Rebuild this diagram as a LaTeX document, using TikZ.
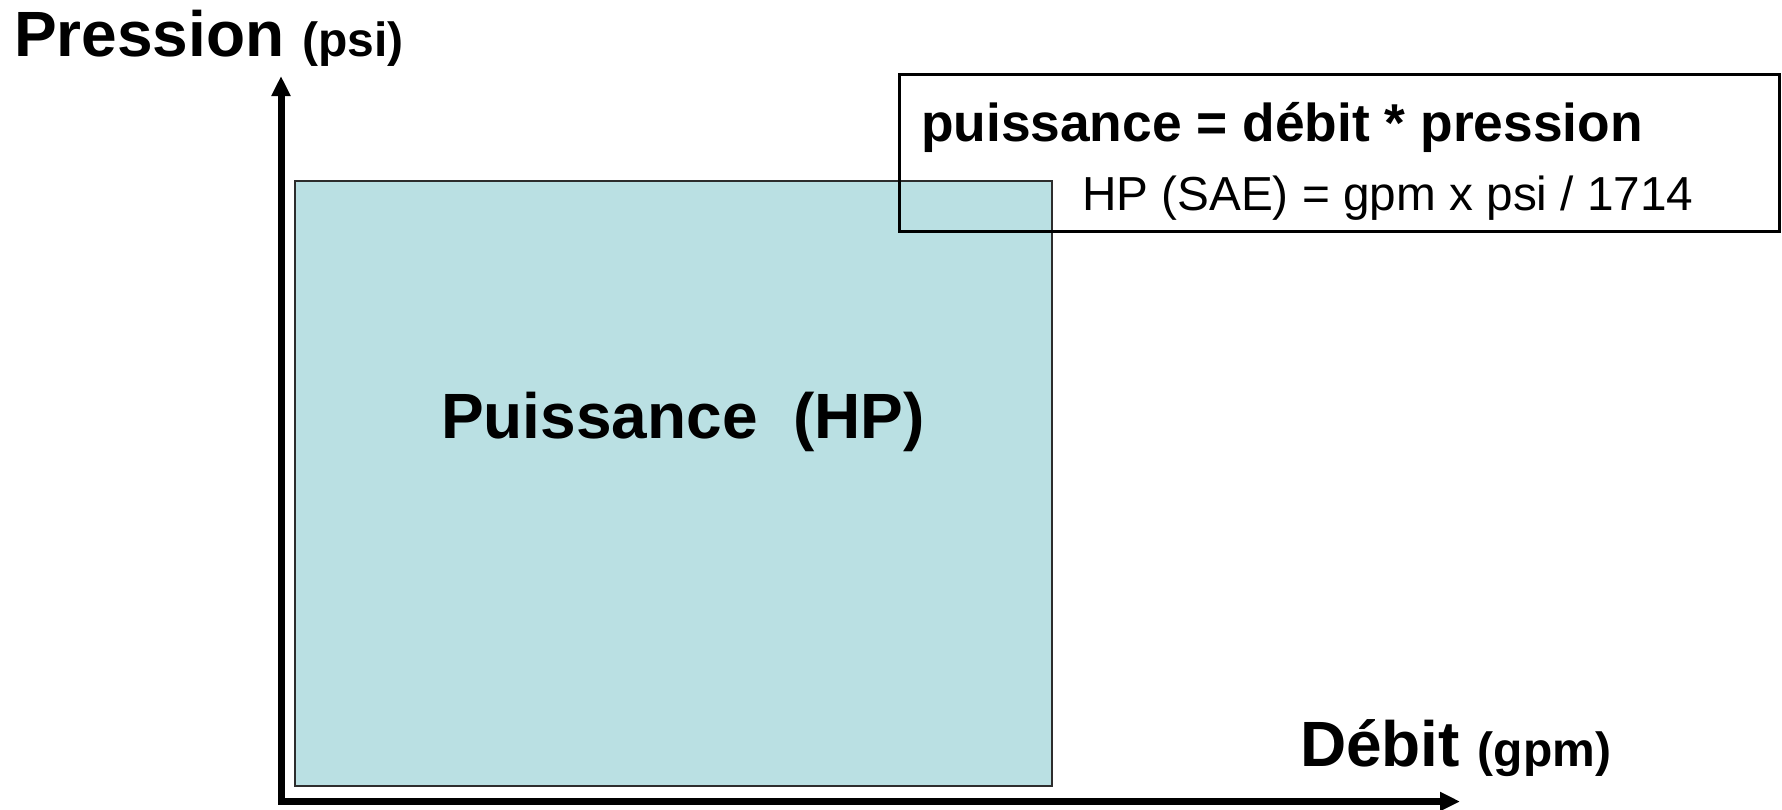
\documentclass[tikz,border=0pt]{standalone}
\usepackage{fontspec}
\setmainfont{Liberation Sans}
\usetikzlibrary{arrows.meta}
\definecolor{areafill}{RGB}{186,224,227}
\definecolor{areaedge}{RGB}{45,45,45}
\begin{document}
\begin{tikzpicture}[x=0.75pt,y=-0.75pt,
  axisline/.style={line width=5.25pt, line join=miter,
    {Triangle[length=15pt,width=13.5pt]}-{Triangle[length=15pt,width=13.5pt]}},
  powerarea/.style={draw=areaedge, fill=areafill, line width=1.5pt,
    inner sep=0pt, outer sep=0pt, minimum width=567.75pt, minimum height=453.75pt},
  formulabox/.style={draw=black, line width=2.25pt, inner sep=0pt, outer sep=0pt,
    minimum width=660pt, minimum height=117.75pt},
  label/.style={anchor=base west, inner sep=0pt, outer sep=0pt},
  bigbold/.style={font=\fontsize{48}{52}\selectfont\bfseries}]
\useasboundingbox (0,0) rectangle (1782,810);

% axes
\coordinate (ytip) at (281,76);
\coordinate (origin) at (281,801.5);
\coordinate (xtip) at (1460,801.5);
\draw[axisline] (ytip) -- (origin) -- (xtip);

% shaded power area
\node[powerarea] (area) at (673.5,483.5) {};

% formula box
\node[formulabox] (formula) at (1339,152.5) {};

% texts
\node[label, bigbold] (ylabel) at (14,56) {Pression {\fontsize{36}{40}\selectfont (psi)}};
\node[label, bigbold] (xlabel) at (1300,766) {Débit {\fontsize{36}{40}\selectfont (gpm)}};
\node[label, bigbold] (arealabel) at (441,438) {Puissance\ \ (HP)};
\node[label, font=\fontsize{40}{44}\selectfont\bfseries] (law) at (921,141) {puissance = débit * pression};
\node[label, font=\fontsize{35.8}{40}\selectfont] (hp) at (1082,210) {HP (SAE) = gpm x psi / 1714};
\end{tikzpicture}
\end{document}
